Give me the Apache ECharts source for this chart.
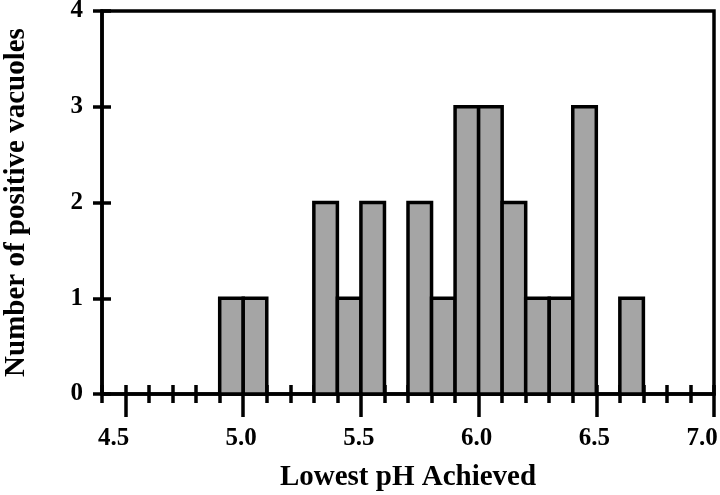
<!DOCTYPE html>
<html>
<head>
<meta charset="utf-8">
<script src="https://cdn.jsdelivr.net/npm/echarts@6/dist/echarts.min.js"></script>
<style>html,body{margin:0;padding:0;background:#fff;}#c{width:720px;height:495px;}</style>
</head>
<body>
<div id="c"></div>
<script>
// Histogram bins (pH) and counts
var binStarts = [4.9, 5.0, 5.3, 5.4, 5.5, 5.7, 5.8, 5.9, 6.0, 6.1, 6.2, 6.3, 6.4, 6.6];
var binEnds   = [5.0, 5.1, 5.4, 5.5, 5.6, 5.8, 5.9, 6.0, 6.1, 6.2, 6.3, 6.4, 6.5, 6.7];
var counts    = [1, 1, 2, 1, 2, 2, 1, 3, 3, 2, 1, 1, 3, 1];
var minorTicks = [4.4,4.5,4.6,4.7,4.8,4.9,5.0,5.1,5.2,5.3,5.4,5.5,5.6,5.7,5.8,5.9,6.0,6.1,6.2,6.3,6.4,6.5,6.6,6.7,6.8,6.9,7.0];
var majorTicks = [4.5, 5.0, 5.5, 6.0, 6.5, 7.0];
var yTicks = [0, 1, 2, 3, 4];

var FONT = '"Liberation Serif", "Times New Roman", serif';
var data = binStarts.map(function (s, i) { return [s, binEnds[i], counts[i]]; });
var LW = 3.5;
var labelStyle = {color: '#000', fontFamily: FONT, fontWeight: 'bold', fontSize: 25};

var chart = echarts.init(document.getElementById('c'), null, {renderer: 'canvas'});
chart.setOption({
  animation: false,
  backgroundColor: '#fff',
  grid: {left: 102, top: 11, width: 612, height: 383, outerBoundsMode: 'none', containLabel: false,
    show: true, borderColor: '#000', borderWidth: LW, backgroundColor: 'transparent'},
  xAxis: [
    {
      type: 'value', min: 4.4, max: 7.0, position: 'bottom',
      axisLine: {show: true, lineStyle: {color: '#000', width: LW}},
      axisTick: {show: true, inside: false, length: 9, customValues: minorTicks, lineStyle: {color: '#000', width: LW}},
      axisLabel: {show: false},
      splitLine: {show: false}
    },
    {
      type: 'value', min: 4.4, max: 7.0, position: 'bottom',
      axisLine: {show: false},
      axisTick: {show: true, inside: true, length: 9, customValues: minorTicks, lineStyle: {color: '#000', width: LW}},
      axisLabel: {show: false},
      splitLine: {show: false}
    },
    {
      type: 'value', min: 4.4, max: 7.0, position: 'bottom',
      axisLine: {show: false},
      axisTick: {show: true, inside: false, length: 23, customValues: majorTicks, lineStyle: {color: '#000', width: LW}},
      axisLabel: {show: true, customValues: majorTicks, margin: 32, color: '#000', fontFamily: FONT, fontWeight: 'bold', fontSize: 25,
        formatter: function (v) {
          var s = v.toFixed(1);
          return (v < 4.6 || v > 6.9) ? '{e|' + s + '}' : '{n|' + s + '}';
        },
        rich: {
          e: Object.assign({padding: [0, 24, 0, 0]}, labelStyle),
          n: Object.assign({padding: [0, 4, 0, 0]}, labelStyle)
        }},
      splitLine: {show: false},
      name: 'Lowest pH Achieved', nameLocation: 'middle', nameGap: 69,
      nameTextStyle: {color: '#000', fontFamily: FONT, fontWeight: 'bold', fontSize: 29}
    }
  ],
  yAxis: [
    {
      type: 'value', min: 0, max: 4, interval: 1, position: 'left',
      axisLine: {show: true, lineStyle: {color: '#000', width: LW}},
      axisTick: {show: true, inside: false, length: 9, lineStyle: {color: '#000', width: LW}},
      axisLabel: {show: true, margin: 19, color: '#000', fontFamily: FONT, fontWeight: 'bold', fontSize: 25},
      splitLine: {show: false},
      name: 'Number of positive vacuoles', nameLocation: 'middle', nameGap: 71,
      nameTextStyle: {color: '#000', fontFamily: FONT, fontWeight: 'bold', fontSize: 29}
    },
    {
      type: 'value', min: 0, max: 4, interval: 1, position: 'left',
      axisLine: {show: false},
      axisTick: {show: true, inside: true, length: 9, lineStyle: {color: '#000', width: LW}},
      axisLabel: {show: false},
      splitLine: {show: false}
    }
  ],
  series: [{
    type: 'custom',
    xAxisIndex: 0, yAxisIndex: 0,
    z: 5,
    data: data,
    renderItem: function (params, api) {
      var p0 = api.coord([api.value(0), 0]);
      var p1 = api.coord([api.value(1), api.value(2)]);
      return {
        type: 'rect',
        shape: {x: p0[0], y: p1[1], width: p1[0] - p0[0], height: p0[1] - p1[1]},
        style: {fill: '#a5a5a5', stroke: '#000', lineWidth: LW}
      };
    }
  }]
});
</script>
</body>
</html>
